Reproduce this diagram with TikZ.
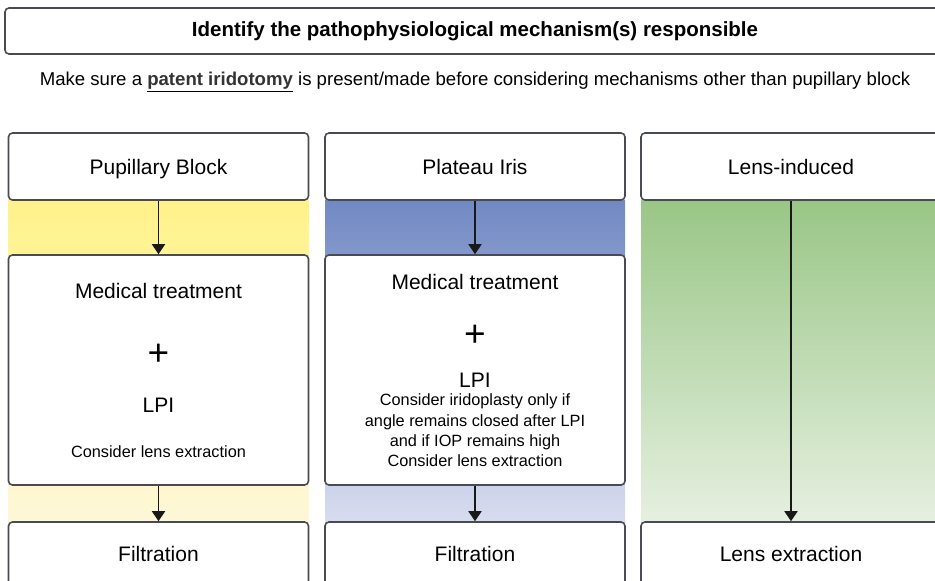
\documentclass[tikz,border=0pt]{standalone}
\usepackage{fontspec}
\setmainfont{Liberation Sans}
\usetikzlibrary{arrows.meta}
\definecolor{boxline}{RGB}{72,76,82}
\definecolor{pbtop}{RGB}{255,242,138}
\definecolor{pbbot}{RGB}{254,247,216}
\definecolor{pitop}{RGB}{113,137,195}
\definecolor{pibot}{RGB}{216,220,239}
\definecolor{litop}{RGB}{153,198,134}
\definecolor{libot}{RGB}{230,240,224}

\begin{document}
\begin{tikzpicture}[x=1pt,y=-1pt,
    box/.style={draw=boxline,line width=1.6pt,rounded corners=4pt,fill=white,inner sep=0pt},
    head/.style={box,minimum width=300pt,minimum height=67pt,font=\fontsize{21}{25}\selectfont,text height=15pt,text depth=0pt},
    medbox/.style={box,minimum width=300pt,minimum height=230pt},
    big/.style={font=\fontsize{21}{25}\selectfont,text height=15pt,text depth=0pt},
    small/.style={font=\fontsize{16.3}{20.3}\selectfont,align=center},
    plus/.style={font=\fontsize{37}{40}\selectfont},
    flow/.style={-{Triangle[length=10pt,width=13pt]},line width=1.8pt,black!90}]
    \clip (0,0) rectangle (935,581);

    % coloured bands behind each column
    \shade[top color=pbtop,bottom color=pbbot] (8,200) rectangle (309,522);
    \shade[top color=pitop,bottom color=pibot] (325,200) rectangle (625,522);
    \shade[top color=litop,bottom color=libot] (641,200) rectangle (941,522);

    \node[box,minimum width=940pt,minimum height=46pt,font=\fontsize{20.5}{24}\selectfont\bfseries] (title) at (475,31) {Identify the pathophysiological mechanism(s) responsible};
    \node[font=\fontsize{18.6}{22}\selectfont] (note) at (475,82) {Make sure a \underline{\textbf{\color{black!80}patent iridotomy}} is present/made before considering mechanisms other than pupillary block};

    % column headers
    \node[head] (pb) at (158.5,166.5) {Pupillary Block};
    \node[head] (pi) at (475,166.5) {Plateau Iris};
    \node[head] (li) at (791,166.5) {Lens-induced};

    % treatment boxes
    \node[medbox] (pbmed) at (158.5,370) {};
    \node[medbox] (pimed) at (475,370) {};
    \node[big] (pbmt) at (158.5,291) {Medical treatment};
    \node[plus] (pbplus) at (158.5,355) {+};
    \node[big] (pblpi) at (158.5,405) {LPI};
    \node[small] (pbnote) at (158.5,452) {Consider lens extraction};
    \node[big] (pimt) at (475,282) {Medical treatment};
    \node[plus] (piplus) at (475,336) {+};
    \node[big] (pilpi) at (475,380) {LPI};
    \node[small] (pinote) at (475,430.5) {Consider iridoplasty only if\\angle remains closed after LPI\\and if IOP remains high\\Consider lens extraction};

    % bottom boxes
    \node[head,minimum height=64pt] (pbout) at (158.5,554) {Filtration};
    \node[head,minimum height=64pt] (piout) at (475,554) {Filtration};
    \node[head,minimum height=64pt] (liout) at (791,554) {Lens extraction};

    \draw[flow] (pb) -- (pbmed);
    \draw[flow] (pi) -- (pimed);
    \draw[flow] (pbmed) -- (pbout);
    \draw[flow] (pimed) -- (piout);
    \draw[flow] (li) -- (liout);
\end{tikzpicture}
\end{document}
